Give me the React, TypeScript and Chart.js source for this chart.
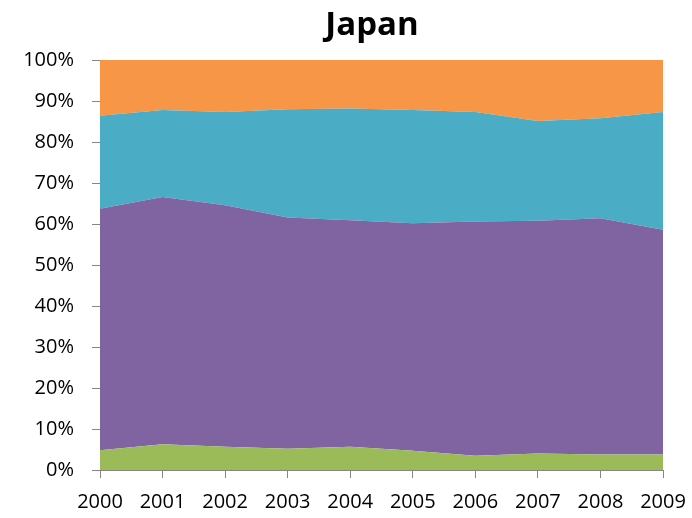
import React, { useEffect, useRef } from "react";
import { Chart, registerables } from "chart.js";

Chart.register(...registerables);

const years = ["2000", "2001", "2002", "2003", "2004", "2005", "2006", "2007", "2008", "2009"];
const green = [4.8, 6.3, 5.7, 5.2, 5.7, 4.7, 3.5, 4.0, 3.8, 3.8];
const purple = [58.9, 60.3, 58.9, 56.4, 55.2, 55.5, 57.1, 56.8, 57.6, 54.8];
const teal = [22.7, 21.2, 22.7, 26.4, 27.3, 27.6, 26.7, 24.3, 24.4, 28.7];
const orange = [13.6, 12.2, 12.7, 12.0, 11.8, 12.2, 12.7, 14.9, 14.2, 12.7];
const title = "Japan";

const FONT = "'Open Sans', 'DejaVu Sans', sans-serif";

const titlePlugin = {
  id: "customTitle",
  afterDraw(chart: any) {
    const ctx = chart.ctx;
    ctx.save();
    ctx.font = `bold 33px ${FONT}`;
    ctx.fillStyle = "#000";
    ctx.textAlign = "center";
    ctx.textBaseline = "middle";
    ctx.fillText(title, 372, 26);
    ctx.restore();
  },
};

export default function App() {
  const ref = useRef<HTMLCanvasElement>(null);
  useEffect(() => {
    if (!ref.current) return;
    const mk = (label: string, data: number[], color: string, fill: any) => ({
      label,
      data,
      backgroundColor: color,
      borderColor: color,
      borderWidth: 0,
      pointRadius: 0,
      tension: 0,
      fill,
    });
    const chart = new Chart(ref.current, {
      type: "line",
      data: {
        labels: years,
        datasets: [
          mk("Series 1", green, "#9BBB59", "origin"),
          mk("Series 2", purple, "#8064A2", "-1"),
          mk("Series 3", teal, "#4BACC6", "-1"),
          mk("Series 4", orange, "#F79646", "-1"),
        ],
      },
      plugins: [titlePlugin],
      options: {
        animation: false,
        responsive: false,
        layout: { padding: { left: 0, right: 0, top: 60, bottom: 0 } },
        plugins: {
          legend: { display: false },
          tooltip: { enabled: false },
          title: { display: false },
        },
        scales: {
          x: {
            offset: false,
            grid: {
              display: true,
              drawOnChartArea: false,
              drawTicks: true,
              tickLength: 8,
              color: "#868686",
            },
            border: { color: "#868686", width: 1 },
            ticks: {
              color: "#000",
              font: { family: FONT, size: 20 },
              maxRotation: 0,
              autoSkip: false,
              padding: 12,
            },
            afterFit: (s: any) => {
              s.height = 48;
              s.paddingRight = 29;
            },
          },
          y: {
            stacked: true,
            min: 0,
            max: 100,
            grid: {
              display: true,
              drawOnChartArea: false,
              drawTicks: true,
              tickLength: 8,
              color: "#868686",
            },
            border: { color: "#868686", width: 1 },
            ticks: {
              stepSize: 10,
              color: "#000",
              font: { family: FONT, size: 20 },
              padding: 18,
              callback: (v: any) => v + "%",
            },
            afterFit: (s: any) => {
              s.width = 100;
            },
          },
        },
      },
    });
    return () => chart.destroy();
  }, []);
  return (
    <div style={{ position: "absolute", left: 0, top: 0, width: 692, height: 518, background: "#fff" }}>
      <canvas ref={ref} width={692} height={518} style={{ width: 692, height: 518 }} />
    </div>
  );
}
